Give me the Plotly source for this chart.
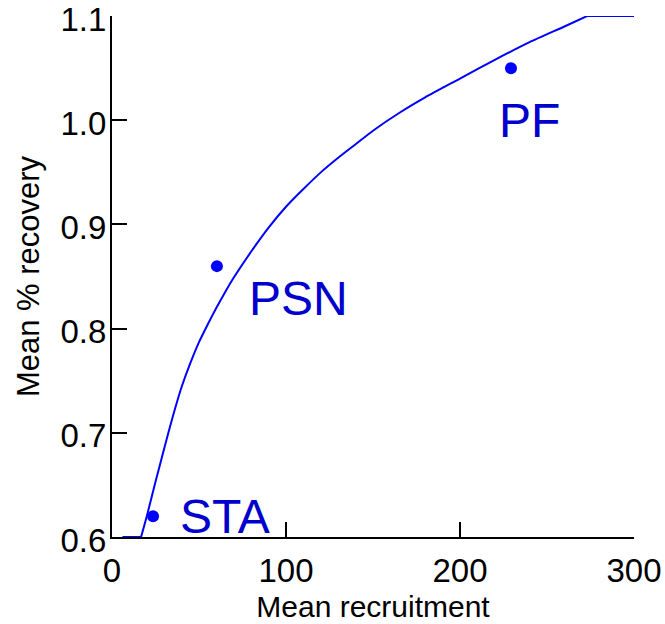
import plotly.graph_objects as go

# Fitted curve
curve_x = [6, 16.7, 20, 25, 30, 35, 40, 45, 50, 55, 60, 65, 70, 80, 90, 100, 110, 120,
           130, 140, 150, 165, 180, 200, 220, 240, 260, 273, 300]
curve_y = [0.6, 0.6, 0.620, 0.653, 0.685, 0.716, 0.744, 0.767, 0.787, 0.804, 0.820,
           0.835, 0.849, 0.874, 0.897, 0.917, 0.934, 0.950, 0.964, 0.977, 0.990, 1.007,
           1.022, 1.040, 1.058, 1.075, 1.090, 1.1, 1.1]

# Observed sites
site_names = ["STA", "PSN", "PF"]
site_x = [23.6, 60.3, 229.3]
site_y = [0.62, 0.86, 1.05]

x_ticks = [0, 100, 200, 300]
y_ticks = [0.6, 0.7, 0.8, 0.9, 1.0, 1.1]
y_tick_text = ["0.6", "0.7", "0.8", "0.9", "1.0", "1.1"]

BLUE = "#0000ff"
TEXT_BLUE = "#0000cc"
FONT = "Liberation Sans, Arial, sans-serif"

fig = go.Figure()
line_style = dict(color=BLUE, width=2)
# flat start, smooth middle, flat end
fig.add_trace(go.Scatter(x=curve_x[:2], y=curve_y[:2], mode="lines",
                         line=line_style, hoverinfo="skip", cliponaxis=False))
fig.add_trace(go.Scatter(x=curve_x[1:-1], y=curve_y[1:-1], mode="lines",
                         line=dict(color=BLUE, width=2, shape="spline", smoothing=0.6),
                         hoverinfo="skip", cliponaxis=False))
fig.add_trace(go.Scatter(x=curve_x[-2:], y=curve_y[-2:], mode="lines",
                         line=line_style, hoverinfo="skip", cliponaxis=False))
fig.add_trace(go.Scatter(x=site_x, y=site_y, mode="markers",
                         marker=dict(color=BLUE, size=12), cliponaxis=False))

# Label placement (pixels) relative to each point
label_anchor = ["left", "left", "center"]
label_dx = [25, 30, 19]
label_dy = [0, -32, -52]
for name, xv, yv, anc, dx, dy in zip(site_names, site_x, site_y, label_anchor,
                                     label_dx, label_dy):
    fig.add_annotation(x=xv, y=yv, text=name, showarrow=False,
                       xanchor=anc, yanchor="middle", xshift=dx, yshift=dy,
                       font=dict(family=FONT, size=48, color=TEXT_BLUE))

fig.update_layout(
    width=665, height=624,
    margin=dict(l=112, r=31, t=16, b=87),
    paper_bgcolor="white", plot_bgcolor="white",
    showlegend=False,
    font=dict(family=FONT, color="black"),
)
fig.update_xaxes(range=[0, 300], tickvals=x_ticks, ticks="inside", ticklen=15,
                 tickwidth=2, tickcolor="black", showline=True, linecolor="black",
                 linewidth=2, showgrid=False, zeroline=False, automargin=False,
                 ticklabeloverflow="allow", ticklabelstandoff=3,
                 tickfont=dict(family=FONT, size=33, color="black"),
                 title=dict(text="Mean recruitment", standoff=8,
                            font=dict(family=FONT, size=30, color="black")))
fig.update_yaxes(range=[0.6, 1.1001], tickvals=y_ticks, ticktext=y_tick_text,
                 ticks="inside", ticklen=15, tickwidth=2, tickcolor="black",
                 showline=True, linecolor="black", linewidth=2, showgrid=False,
                 zeroline=False, ticklabelshift=3, ticklabelstandoff=-3,
                 automargin=False, ticklabeloverflow="allow",
                 tickfont=dict(family=FONT, size=33, color="black"),
                 title=dict(text="Mean % recovery", standoff=12,
                            font=dict(family=FONT, size=31, color="black")))

fig.write_html("out.html")
